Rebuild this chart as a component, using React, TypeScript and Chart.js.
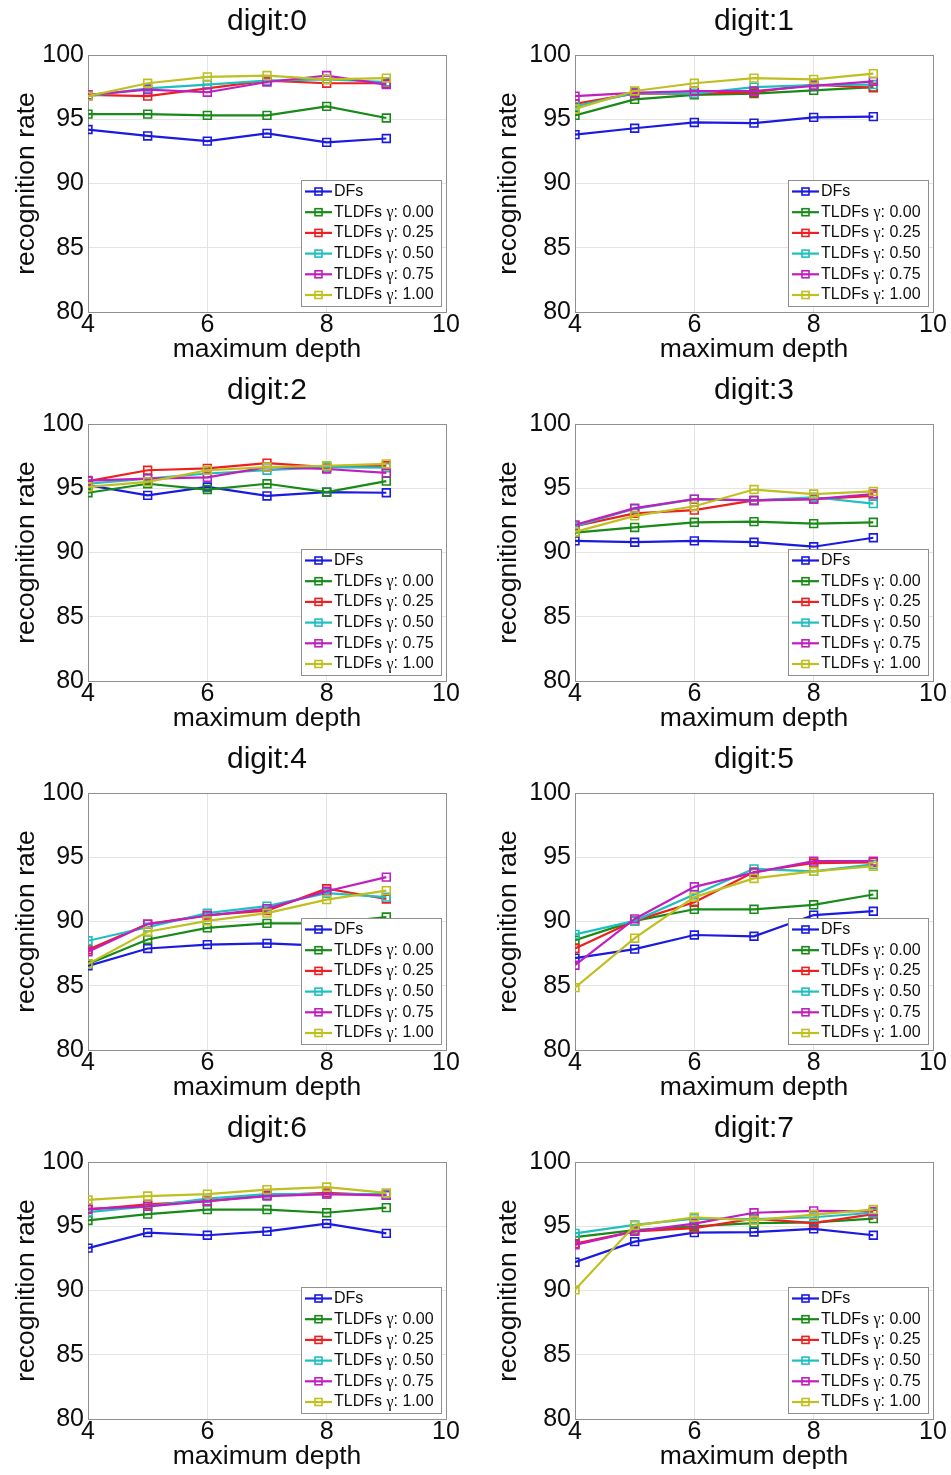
import React, { useEffect, useRef } from 'react';
import { Chart, registerables } from 'chart.js';

Chart.register(...registerables);

// ---------- data ----------
const depths = [4, 5, 6, 7, 8, 9];
const xTicks = [4, 6, 8, 10];
const yTicks = [80, 85, 90, 95, 100];
const seriesLabels = ['DFs', 'TLDFs γ: 0.00', 'TLDFs γ: 0.25', 'TLDFs γ: 0.50', 'TLDFs γ: 0.75', 'TLDFs γ: 1.00'];
const seriesColors = ['#1a1ae0', '#178a17', '#ee1f1f', '#1fbfbf', '#bf1fbf', '#bfbf1f'];

// each digit: rows = DFs, γ0.00, γ0.25, γ0.50, γ0.75, γ1.00 ; columns = depth 4..9
const digit0 = [
  [94.2, 93.7, 93.3, 93.9, 93.2, 93.5],
  [95.4, 95.4, 95.3, 95.3, 96.0, 95.1],
  [96.9, 96.8, 97.4, 98.0, 97.8, 97.8],
  [96.8, 97.4, 97.7, 98.0, 98.1, 97.9],
  [96.9, 97.3, 97.1, 97.9, 98.4, 97.7],
  [96.8, 97.8, 98.3, 98.4, 98.1, 98.2],
];
const digit1 = [
  [93.8, 94.3, 94.75, 94.7, 95.15, 95.2],
  [95.3, 96.55, 96.9, 97.0, 97.25, 97.5],
  [96.2, 97.0, 97.0, 97.1, 97.7, 97.45],
  [96.0, 97.05, 97.0, 97.5, 97.65, 97.7],
  [96.8, 97.05, 97.2, 97.2, 97.6, 97.95],
  [95.8, 97.2, 97.8, 98.2, 98.1, 98.55],
];
const digit2 = [
  [95.25, 94.45, 95.1, 94.4, 94.7, 94.65],
  [94.65, 95.35, 94.9, 95.35, 94.7, 95.55],
  [95.55, 96.4, 96.55, 96.95, 96.65, 96.75],
  [95.35, 95.75, 96.15, 96.4, 96.65, 96.6],
  [95.6, 95.75, 95.85, 96.65, 96.5, 96.2],
  [95.1, 95.5, 96.4, 96.65, 96.75, 96.9],
];
const digit3 = [
  [90.9, 90.8, 90.9, 90.8, 90.45, 91.15],
  [91.55, 91.95, 92.35, 92.4, 92.25, 92.35],
  [92.05, 93.05, 93.3, 94.05, 94.15, 94.4],
  [92.05, 93.4, 94.15, 94.05, 94.3, 93.8],
  [92.15, 93.45, 94.15, 94.05, 94.15, 94.55],
  [91.6, 92.85, 93.6, 94.9, 94.55, 94.75],
];
const digit4 = [
  [86.55, 87.9, 88.2, 88.3, 88.1, 88.4],
  [86.7, 88.6, 89.5, 89.85, 89.85, 90.35],
  [87.8, 89.8, 90.5, 90.85, 92.55, 91.75],
  [88.5, 89.55, 90.65, 91.2, 92.2, 91.9],
  [87.65, 89.8, 90.45, 91.0, 92.35, 93.45],
  [86.7, 89.2, 90.05, 90.65, 91.7, 92.4],
];
const digit5 = [
  [87.15, 87.85, 88.95, 88.85, 90.5, 90.8],
  [88.55, 90.05, 90.95, 90.95, 91.3, 92.1],
  [87.9, 90.05, 91.5, 93.85, 94.55, 94.6],
  [89.0, 90.05, 92.1, 94.1, 93.9, 94.45],
  [86.6, 90.2, 92.7, 93.8, 94.7, 94.7],
  [84.85, 88.7, 91.9, 93.35, 93.9, 94.3],
];
const digit6 = [
  [93.3, 94.5, 94.3, 94.6, 95.2, 94.45],
  [95.45, 95.95, 96.3, 96.3, 96.05, 96.45],
  [96.3, 96.7, 96.95, 97.4, 97.6, 97.4],
  [96.1, 96.55, 97.15, 97.5, 97.5, 97.5],
  [96.35, 96.55, 96.95, 97.35, 97.5, 97.4],
  [97.05, 97.35, 97.5, 97.85, 98.05, 97.6],
];
const digit7 = [
  [92.2, 93.8, 94.5, 94.55, 94.8, 94.3],
  [94.15, 94.7, 95.0, 95.25, 95.3, 95.6],
  [93.65, 94.6, 94.85, 95.6, 95.25, 95.95],
  [94.45, 95.1, 95.6, 95.55, 95.7, 96.05],
  [93.55, 94.6, 95.2, 96.05, 96.2, 96.15],
  [90.05, 95.05, 95.7, 95.45, 95.9, 96.3],
];
const digitData = [digit0, digit1, digit2, digit3, digit4, digit5, digit6, digit7];

// ---------- style ----------
const SANS = '"Liberation Sans", Arial, Helvetica, sans-serif';
const SERIF = '"Liberation Serif", "Times New Roman", serif';
const TEXT = '#0d0d0d';
const PANEL_W = [475, 476];
const PANEL_H = 368;
const ROW_STEP = 369;

Chart.defaults.font.family = SANS;
Chart.defaults.color = TEXT;

const framePlugin = {
  id: 'frameBox',
  beforeDatasetsDraw(chart: any) {
    const { ctx, chartArea: a } = chart;
    ctx.save();
    ctx.strokeStyle = '#8f8f8f';
    ctx.lineWidth = 1;
    ctx.strokeRect(Math.round(a.left) + 0.5, Math.round(a.top) + 0.5, Math.round(a.right - a.left), Math.round(a.bottom - a.top));
    ctx.restore();
  },
};

const boxLegendPlugin = {
  id: 'boxLegend',
  afterDraw(chart: any) {
    const { ctx, chartArea: a } = chart;
    const w = 141;
    const h = 127;
    const x0 = Math.round(a.right - 4 - w);
    const y0 = Math.round(a.bottom - 5 - h);
    ctx.save();
    ctx.fillStyle = '#ffffff';
    ctx.fillRect(x0, y0, w, h);
    ctx.strokeStyle = '#8f8f8f';
    ctx.lineWidth = 1;
    ctx.strokeRect(x0 + 0.5, y0 + 0.5, w - 1, h - 1);
    chart.data.datasets.forEach((ds: any, i: number) => {
      const cy = y0 + 11.5 + i * 20.7;
      ctx.strokeStyle = ds.borderColor;
      ctx.lineWidth = 2.2;
      ctx.beginPath();
      ctx.moveTo(x0 + 4, cy);
      ctx.lineTo(x0 + 31, cy);
      ctx.stroke();
      ctx.lineWidth = 1.6;
      ctx.strokeRect(x0 + 17.5 - 3.5, cy - 3.5, 7, 7);
      ctx.fillStyle = TEXT;
      ctx.textBaseline = 'middle';
      ctx.textAlign = 'left';
      const parts = String(ds.label).split('γ');
      let tx = x0 + 33;
      ctx.font = `16px ${SANS}`;
      ctx.fillText(parts[0], tx, cy);
      tx += ctx.measureText(parts[0]).width;
      if (parts.length > 1) {
        ctx.font = `16px ${SERIF}`;
        ctx.fillText('γ', tx, cy + 1);
        tx += ctx.measureText('γ').width;
        ctx.font = `16px ${SANS}`;
        ctx.fillText(parts[1], tx, cy);
      }
    });
    ctx.restore();
  },
};

function Panel({ index }: { index: number }) {
  const ref = useRef<HTMLCanvasElement>(null);
  const col = index % 2;
  const row = Math.floor(index / 2);
  const width = PANEL_W[col];
  const yAxisWidth = col === 0 ? 88 : 100;
  const rightPad = col === 0 ? 29 : 18;
  const yTitlePad = col === 0 ? 13 : 20;

  useEffect(() => {
    if (!ref.current) return;
    const values = digitData[index];
    const chart = new Chart(ref.current, {
      type: 'line',
      data: {
        datasets: seriesLabels.map((label, i) => ({
          label,
          data: depths.map((d, j) => ({ x: d, y: values[i][j] })),
          borderColor: seriesColors[i],
          backgroundColor: 'rgba(255,255,255,0)',
          borderWidth: 2.2,
          tension: 0,
          pointStyle: 'rect',
          pointRadius: 5.5,
          pointBorderWidth: 1.6,
          pointBorderColor: seriesColors[i],
          pointBackgroundColor: 'rgba(255,255,255,0)',
          order: seriesLabels.length - i,
        })),
      },
      options: {
        animation: false,
        responsive: false,
        layout: { padding: { left: 0, right: rightPad, top: 0, bottom: 0 } },
        plugins: {
          legend: { display: false },
          tooltip: { enabled: false },
          title: {
            display: true,
            text: `digit:${index}`,
            fullSize: false,
            color: TEXT,
            font: { size: 30, weight: 'normal', family: SANS, lineHeight: 1 },
            padding: { top: 7, bottom: 18 },
          },
        },
        scales: {
          x: {
            type: 'linear',
            min: 4,
            max: 10,
            afterBuildTicks: (s: any) => {
              s.ticks = xTicks.map((v) => ({ value: v }));
            },
            afterFit: (s: any) => {
              s.height = 56;
            },
            grid: { color: '#e4e4e4', drawTicks: false, lineWidth: 1 },
            border: { display: false },
            ticks: { padding: 1, color: TEXT, font: { size: 25, family: SANS, lineHeight: 1 }, maxRotation: 0 },
            title: {
              display: true,
              text: 'maximum depth',
              color: TEXT,
              font: { size: 26.5, family: SANS, lineHeight: 1 },
              padding: { top: 0, bottom: 5 },
            },
          },
          y: {
            type: 'linear',
            min: 80,
            max: 100,
            afterBuildTicks: (s: any) => {
              s.ticks = yTicks.map((v) => ({ value: v }));
            },
            afterFit: (s: any) => {
              s.width = yAxisWidth;
            },
            grid: { color: '#e4e4e4', drawTicks: false, lineWidth: 1 },
            border: { display: false },
            ticks: { padding: 4, color: TEXT, font: { size: 25, family: SANS, lineHeight: 1 } },
            title: {
              display: true,
              text: 'recognition rate',
              color: TEXT,
              font: { size: 26.5, family: SANS, lineHeight: 1 },
              padding: { top: yTitlePad, bottom: 0 },
            },
          },
        },
      },
      plugins: [framePlugin, boxLegendPlugin],
    } as any);
    return () => chart.destroy();
  }, [index]);

  return (
    <canvas
      ref={ref}
      width={width}
      height={PANEL_H}
      style={{
        position: 'absolute',
        left: col * 475,
        top: row * ROW_STEP,
        width,
        height: PANEL_H,
        display: 'block',
      }}
    />
  );
}

export default function App() {
  return (
    <div
      style={{
        position: 'absolute',
        left: 0,
        top: 0,
        width: 951,
        height: 1475,
        background: '#ffffff',
        overflow: 'hidden',
      }}
    >
      {digitData.map((_, i) => (
        <Panel key={i} index={i} />
      ))}
    </div>
  );
}
